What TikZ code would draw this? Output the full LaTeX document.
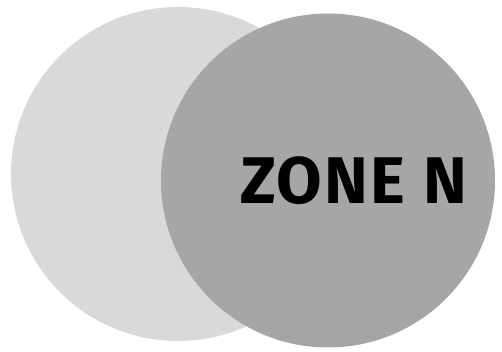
\documentclass[tikz,border=0pt]{standalone}
\usepackage{fontspec}
\setmainfont{Fira Sans}
\usetikzlibrary{positioning}
\definecolor{zoneLight}{HTML}{D9D9D9}
\definecolor{zoneDark}{HTML}{A6A6A6}
\tikzset{
  zonedisc/.style  = {circle, minimum size=334pt, inner sep=0pt},
  zonelbl/.style   = {font=\fontsize{66}{70}\selectfont\bfseries\addfontfeatures{LetterSpace=3.6},
                      black, inner sep=0pt},
}
\begin{document}
\begin{tikzpicture}[x=1pt, y=-1pt]
  \useasboundingbox (0,0) rectangle (502,352);
  % two overlapping zones, the darker one on top
  \node[zonedisc, fill=zoneLight] (zoneA) at (178,174) {};
  \node[zonedisc, fill=zoneDark]  (zoneB) at (328,180.5) {};
  % label
  \node[zonelbl, anchor=base west] (zonename) at (240,204) {ZONE N};
\end{tikzpicture}
\end{document}
